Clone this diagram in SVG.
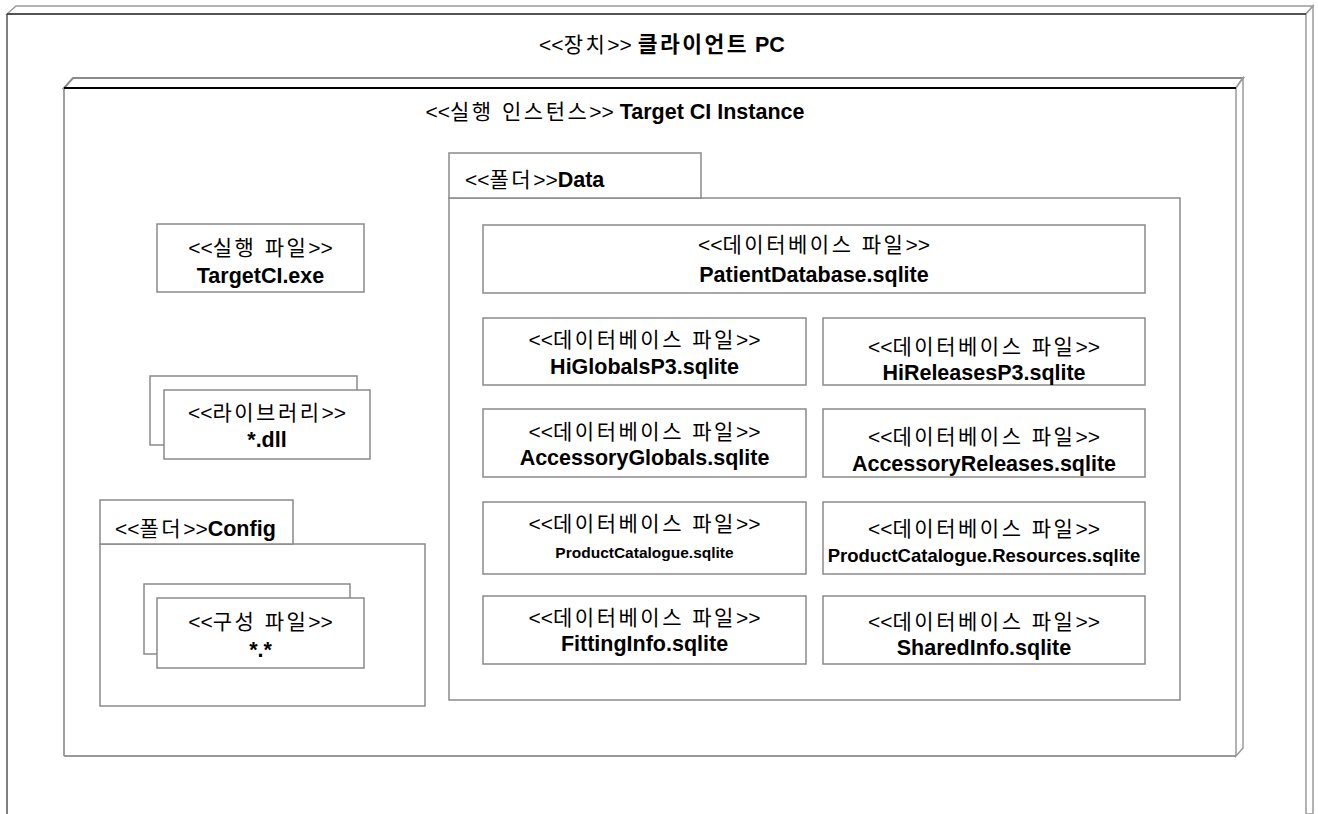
<svg xmlns="http://www.w3.org/2000/svg" width="1318" height="814" viewBox="0 0 1318 814">
<style>
text{font-family:"Liberation Sans","Noto Sans CJK KR",sans-serif;font-size:21px;fill:#000}
.b{font-weight:bold;font-size:21.5px}
.c{text-anchor:middle}
.k{letter-spacing:2.5px}
.box{fill:#fff;stroke:#8a8a8a;stroke-width:1.5}
.s1{font-size:15.5px}
.s2{font-size:18.5px}
</style>
<rect width="1318" height="814" fill="#fff"/>
<g id="device">
<polygon points="7,14 16,6 1313,6 1306,14" fill="#fff" stroke="#9a9a9a" stroke-width="1.5"/>
<polygon points="1306,14 1313,6 1313,814 1306,814" fill="#fff" stroke="#9a9a9a" stroke-width="1.5"/>
<line x1="7" y1="14" x2="7" y2="814" stroke="#555" stroke-width="1.5"/>
<line x1="7" y1="14" x2="1306" y2="14" stroke="#333" stroke-width="1.5"/>
<text class="c" x="662" y="52">&lt;&lt;<tspan class="k">장치</tspan>&gt;&gt; <tspan class="b k">클라이언트</tspan><tspan class="b"> PC</tspan></text>
</g>
<g id="instance">
<polygon points="64,88 73,78 1243,78 1236,88" fill="#fff" stroke="#8a8a8a" stroke-width="2"/>
<polygon points="1236,88 1243,78 1243,748 1236,756" fill="#fff" stroke="#9a9a9a" stroke-width="1.5"/>
<line x1="64" y1="88" x2="64" y2="756" stroke="#a0a0a0" stroke-width="2"/>
<line x1="64" y1="756" x2="1236" y2="756" stroke="#999" stroke-width="2"/>
<line x1="64" y1="88" x2="1236" y2="88" stroke="#000" stroke-width="2"/>
<text class="c" x="615" y="119">&lt;&lt;<tspan class="k">실행 인스턴스</tspan>&gt;&gt; <tspan class="b">Target CI Instance</tspan></text>
</g>
<g id="targetci">
<rect class="box" x="157" y="224" width="207" height="68"/>
<text class="c" x="260.5" y="255">&lt;&lt;<tspan class="k">실행 파일</tspan>&gt;&gt;</text>
<text class="c b" x="260.5" y="283">TargetCI.exe</text>
</g>
<g id="library">
<rect class="box" x="150" y="376" width="207" height="69"/>
<rect class="box" x="164" y="390" width="206" height="69"/>
<text class="c" x="267" y="420">&lt;&lt;<tspan class="k">라이브러리</tspan>&gt;&gt;</text>
<text class="c b" x="267" y="447">*.dll</text>
</g>
<g id="config">
<rect class="box" x="100" y="544" width="325" height="162"/>
<rect class="box" x="100" y="500" width="193" height="44"/>
<text x="115" y="536">&lt;&lt;<tspan class="k">폴더</tspan>&gt;&gt;<tspan class="b">Config</tspan></text>
</g>
<g id="configfile">
<rect class="box" x="144" y="584" width="206" height="70"/>
<rect class="box" x="157" y="598" width="207" height="70"/>
<text class="c" x="260.5" y="629">&lt;&lt;<tspan class="k">구성 파일</tspan>&gt;&gt;</text>
<text class="c b" x="260.5" y="657">*.*</text>
</g>
<g id="data">
<rect class="box" x="449" y="198" width="731" height="502"/>
<rect class="box" x="449" y="153" width="252" height="45"/>
<text x="465" y="187">&lt;&lt;<tspan class="k">폴더</tspan>&gt;&gt;<tspan class="b">Data</tspan></text>
</g>
<g id="patientdb">
<rect class="box" x="483" y="225" width="662" height="68"/>
<text class="c" x="814" y="252">&lt;&lt;<tspan class="k">데이터베이스 파일</tspan>&gt;&gt;</text>
<text class="c b" x="814" y="282">PatientDatabase.sqlite</text>
</g>
<g id="higlobals">
<rect class="box" x="483" y="318" width="323" height="67"/>
<text class="c" x="644.5" y="347">&lt;&lt;<tspan class="k">데이터베이스 파일</tspan>&gt;&gt;</text>
<text class="c b" x="644.5" y="374">HiGlobalsP3.sqlite</text>
</g>
<g id="hireleases">
<rect class="box" x="823" y="318" width="322" height="67"/>
<text class="c" x="984" y="354">&lt;&lt;<tspan class="k">데이터베이스 파일</tspan>&gt;&gt;</text>
<text class="c b" x="984" y="380">HiReleasesP3.sqlite</text>
</g>
<g id="accglobals">
<rect class="box" x="483" y="409" width="323" height="68"/>
<text class="c" x="644.5" y="439">&lt;&lt;<tspan class="k">데이터베이스 파일</tspan>&gt;&gt;</text>
<text class="c b" x="644.5" y="465">AccessoryGlobals.sqlite</text>
</g>
<g id="accreleases">
<rect class="box" x="823" y="409" width="322" height="68"/>
<text class="c" x="984" y="444">&lt;&lt;<tspan class="k">데이터베이스 파일</tspan>&gt;&gt;</text>
<text class="c b" x="984" y="471">AccessoryReleases.sqlite</text>
</g>
<g id="prodcat">
<rect class="box" x="483" y="502" width="323" height="72"/>
<text class="c" x="644.5" y="531">&lt;&lt;<tspan class="k">데이터베이스 파일</tspan>&gt;&gt;</text>
<text class="c b s1" x="644.5" y="558">ProductCatalogue.sqlite</text>
</g>
<g id="prodcatres">
<rect class="box" x="823" y="502" width="322" height="72"/>
<text class="c" x="984" y="536">&lt;&lt;<tspan class="k">데이터베이스 파일</tspan>&gt;&gt;</text>
<text class="c b s2" x="984" y="562">ProductCatalogue.Resources.sqlite</text>
</g>
<g id="fitting">
<rect class="box" x="483" y="596" width="323" height="68"/>
<text class="c" x="644.5" y="625">&lt;&lt;<tspan class="k">데이터베이스 파일</tspan>&gt;&gt;</text>
<text class="c b" x="644.5" y="651">FittingInfo.sqlite</text>
</g>
<g id="shared">
<rect class="box" x="823" y="596" width="322" height="68"/>
<text class="c" x="984" y="629">&lt;&lt;<tspan class="k">데이터베이스 파일</tspan>&gt;&gt;</text>
<text class="c b" x="984" y="655">SharedInfo.sqlite</text>
</g>
<g id="connectors"></g>
</svg>
